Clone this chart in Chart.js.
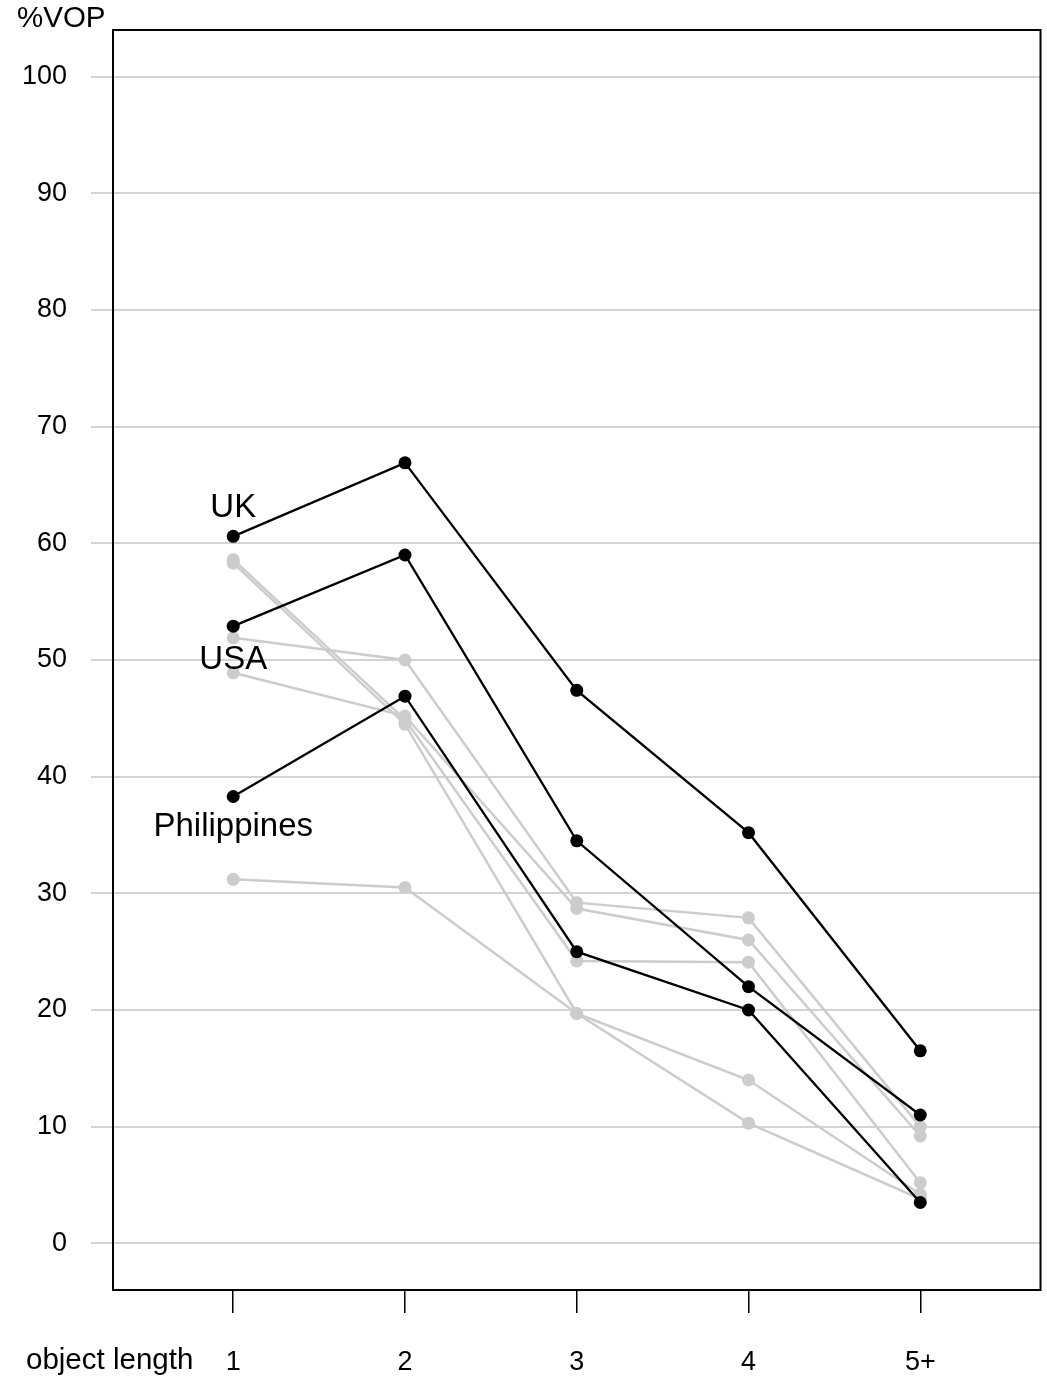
<!DOCTYPE html>
<html>
<head>
<meta charset="utf-8">
<script src="https://cdn.jsdelivr.net/npm/chart.js@4/dist/chart.umd.min.js"></script>
<style>
  html, body { margin: 0; padding: 0; background: #ffffff; }
  #wrap { width: 1047px; height: 1377px; position: relative; }
</style>
</head>
<body>
<div id="wrap"><canvas id="c" width="1047" height="1377"></canvas></div>
<script>
// Object length categories on the x axis
const categories = ['1', '2', '3', '4', '5+'];
const yTicks = [0, 10, 20, 30, 40, 50, 60, 70, 80, 90, 100];

// Highlighted countries (%VOP by object length)
const ukValues = [60.6, 66.9, 47.4, 35.2, 16.5];
const usaValues = [52.9, 59.0, 34.5, 22.0, 11.0];
const philippinesValues = [38.3, 46.9, 25.0, 20.0, 3.5];

// Remaining countries, drawn in grey
const greyA = [51.9, 50.0, 29.2, 27.9, 10.0];
const greyB = [48.9, 45.2, 28.7, 26.0, 9.2];
const greyC = [58.6, 44.9, 24.2, 24.1, 5.2];
const greyD = [58.3, 44.5, 19.7, 14.0, 4.2];
const greyE = [31.2, 30.5, 19.7, 10.3, 3.8];

const highlighted = [
  { name: 'UK', values: ukValues, labelY: 63.0 },
  { name: 'USA', values: usaValues, labelY: 50.0 },
  { name: 'Philippines', values: philippinesValues, labelY: 35.7 }
];
const greySeries = [greyA, greyB, greyC, greyD, greyE];

const FONT = '"Liberation Sans", Arial, Helvetica, sans-serif';
const toPoints = vals => vals.map((v, i) => ({ x: i + 1, y: v }));

const datasets = [];
highlighted.forEach(s => datasets.push({
  label: s.name,
  data: toPoints(s.values),
  borderColor: '#000000',
  backgroundColor: '#000000',
  borderWidth: 2.3,
  pointRadius: 6.5,
  pointHoverRadius: 6.5,
  pointBorderWidth: 0,
  order: 0
}));
greySeries.forEach((vals, k) => datasets.push({
  label: 'other ' + (k + 1),
  data: toPoints(vals),
  borderColor: '#cccccc',
  backgroundColor: '#cccccc',
  borderWidth: 2.5,
  pointRadius: 6.5,
  pointHoverRadius: 6.5,
  pointBorderWidth: 0,
  order: 1
}));

// Frame around the plot area plus free text (axis titles and country names)
const annotate = {
  id: 'annotate',
  afterDraw(chart) {
    const { ctx, chartArea: a, scales } = chart;
    ctx.save();
    ctx.strokeStyle = '#000000';
    ctx.lineWidth = 2;
    ctx.strokeRect(a.left, a.top, a.right - a.left, a.bottom - a.top);

    ctx.fillStyle = '#000000';
    ctx.textBaseline = 'middle';
    ctx.font = '29.5px ' + FONT;
    ctx.textAlign = 'left';
    ctx.fillText('%VOP', 17, 19);
    ctx.fillText('object length', 26, 1361);

    ctx.font = '33px ' + FONT;
    ctx.textAlign = 'center';
    highlighted.forEach(s => {
      ctx.fillText(s.name, scales.x.getPixelForValue(1), scales.y.getPixelForValue(s.labelY));
    });
    ctx.restore();
  }
};

new Chart(document.getElementById('c'), {
  type: 'line',
  data: { datasets },
  options: {
    responsive: false,
    animation: false,
    events: [],
    layout: { padding: { left: 0, top: 30, right: 5, bottom: 0 } },
    plugins: { legend: { display: false }, tooltip: { enabled: false } },
    scales: {
      x: {
        type: 'linear',
        min: 0.3,
        max: 5.7,
        afterFit(scale) {
          scale.height = 87;
          scale.paddingLeft = 0;
          scale.paddingRight = 0;
        },
        afterBuildTicks(scale) {
          scale.ticks = categories.map((c, i) => ({ value: i + 1 }));
        },
        ticks: {
          callback: v => categories[v - 1],
          font: { family: FONT, size: 27 },
          color: '#000000',
          padding: 33,
          maxRotation: 0,
          autoSkip: false
        },
        grid: {
          display: true,
          drawOnChartArea: false,
          drawTicks: true,
          tickLength: 23,
          color: '#000000',
          lineWidth: 1.5
        },
        border: { display: false }
      },
      y: {
        type: 'linear',
        min: -4,
        max: 104,
        afterFit(scale) {
          scale.width = 113;
          scale.paddingTop = 0;
          scale.paddingBottom = 0;
        },
        afterBuildTicks(scale) {
          scale.ticks = yTicks.map(v => ({ value: v }));
        },
        ticks: {
          font: { family: FONT, size: 27 },
          color: '#000000',
          padding: 24
        },
        grid: {
          display: true,
          drawOnChartArea: true,
          drawTicks: true,
          tickLength: 22,
          color: '#d4d4d4',
          lineWidth: 2
        },
        border: { display: false }
      }
    }
  },
  plugins: [annotate]
});
</script>
</body>
</html>
